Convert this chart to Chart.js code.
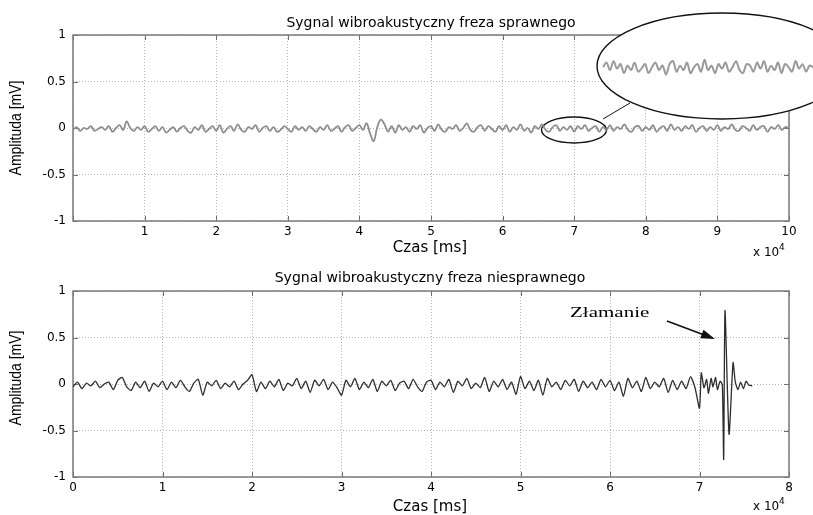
<!DOCTYPE html>
<html>
<head>
<meta charset="utf-8">
<script src="https://cdn.jsdelivr.net/npm/chart.js@4.4.0/dist/chart.umd.min.js"></script>
<style>
  html, body { margin: 0; padding: 0; background: #fff; }
  #wrap { position: relative; width: 813px; height: 515px; overflow: hidden; }
  canvas { position: absolute; left: 0; }
  #top { top: 0; }
  #bottom { top: 262px; }
</style>
</head>
<body>
<div id="wrap">
  <canvas id="top" width="813" height="262"></canvas>
  <canvas id="bottom" width="813" height="253"></canvas>
</div>
<script>
// tick labels
const yTicks = [-1, -0.5, 0, 0.5, 1];
const topXMax = 10;
const bottomXMax = 8;

// sampling step of the read-off signals (x 10^4 ms)
const dt = 0.05;

// good cutter signal, t = 0 .. 10
const topValues = [
  -0.02, 0.01, -0.03, 0.00, -0.01, 0.02, -0.03, -0.01, 0.01, -0.02, 0.02, -0.04, 0.00, 0.03, -0.02, 0.07, 0.00, -0.03, 0.01, -0.02,
  0.02, -0.04, -0.01, 0.02, -0.03, 0.01, -0.05, -0.02, 0.01, -0.04, 0.00, 0.02, -0.03, -0.05, 0.01, -0.02, 0.03, -0.04, -0.01, 0.02,
  -0.03, 0.03, -0.05, -0.01, 0.02, -0.03, 0.04, -0.02, -0.04, 0.01, -0.01, 0.03, -0.04, 0.00, 0.02, -0.03, 0.01, -0.04, -0.02, 0.02,
  -0.01, -0.04, 0.02, -0.02, 0.01, -0.03, 0.02, -0.01, -0.04, 0.01, -0.02, 0.03, -0.03, -0.01, 0.02, -0.04, 0.01, 0.03, -0.03, 0.00,
  0.03, -0.02, 0.05, -0.06, -0.14, 0.01, 0.09, 0.04, -0.04, 0.02, -0.05, 0.03, -0.02, 0.01, -0.04, 0.02, -0.01, 0.03, -0.05, 0.00,
  0.02, -0.03, 0.04, -0.02, -0.04, 0.01, -0.01, 0.03, -0.03, 0.00, 0.05, -0.02, -0.04, 0.01, 0.03, -0.03, 0.02, -0.01, -0.04, 0.02,
  -0.02, 0.03, -0.04, 0.01, -0.02, 0.04, -0.03, 0.00, -0.05, 0.02, -0.01, 0.04, -0.02, -0.04, 0.01, 0.03, -0.03, 0.01, -0.02, 0.02,
  -0.04, 0.02, -0.01, 0.03, -0.03, 0.00, 0.02, -0.04, 0.01, -0.02, 0.03, -0.03, 0.01, -0.01, 0.04, -0.02, -0.04, 0.01, 0.02, -0.03,
  0.01, -0.02, 0.03, -0.04, 0.00, 0.02, -0.03, 0.04, -0.02, 0.01, -0.03, 0.02, -0.01, 0.03, -0.04, 0.00, 0.02, -0.03, 0.01, -0.02,
  0.03, -0.03, 0.01, -0.01, 0.04, -0.02, -0.03, 0.02, 0.00, -0.03, 0.03, -0.02, 0.01, 0.02, -0.04, 0.01, -0.01, 0.03, -0.02, 0.01, 0.00
];

// magnified piece of the good signal (inside the big ellipse), t = 6.6 .. 7.5
const insetStart = 6.6;
const insetStep = 0.015;
const insetValues = [
  0.00, 0.03, -0.02, 0.04, -0.01, 0.02, -0.04, 0.01, -0.02, 0.03,
  -0.03, -0.01, 0.02, -0.04, 0.00, 0.03, -0.02, 0.01, -0.05, 0.02,
  0.04, -0.03, 0.01, -0.02, 0.03, -0.04, 0.00, 0.02, -0.03, 0.05,
  -0.02, 0.01, -0.04, 0.02, -0.01, 0.03, -0.03, 0.00, 0.04, -0.02,
  -0.04, 0.02, 0.01, -0.03, 0.03, -0.01, 0.04, -0.03, 0.01, -0.02,
  0.03, -0.04, 0.02, 0.00, -0.03, 0.04, -0.01, 0.02, -0.03, 0.01, 0.00
];

// broken cutter signal, t = 0 .. 6.95
const bottomValues = [
  -0.03, 0.02, -0.05, 0.01, -0.02, 0.03, -0.04, 0.00, 0.02, -0.06, 0.04, 0.07, -0.03, -0.07, 0.02, -0.04, 0.03, -0.08, 0.01, -0.03,
  0.03, -0.06, 0.02, -0.04, 0.04, -0.03, -0.08, 0.01, 0.05, -0.12, 0.02, -0.02, 0.04, -0.05, 0.01, -0.03, 0.03, -0.06, 0.00, 0.04,
  0.10, -0.08, 0.02, -0.05, 0.03, -0.03, 0.05, -0.07, 0.01, -0.02, 0.06, -0.05, 0.03, -0.09, 0.04, -0.02, 0.05, -0.06, 0.02, -0.04,
  -0.12, 0.04, -0.03, 0.06, -0.06, 0.02, -0.04, 0.05, -0.08, 0.03, -0.02, 0.04, -0.07, 0.01, 0.03, -0.05, 0.05, -0.03, -0.08, 0.02,
  0.04, -0.06, 0.02, -0.03, 0.05, -0.09, 0.03, -0.02, 0.06, -0.05, 0.01, -0.04, 0.07, -0.08, 0.03, -0.03, 0.05, -0.06, 0.02, -0.11,
  0.08, -0.05, 0.03, -0.07, 0.04, -0.12, 0.06, -0.03, 0.02, -0.06, 0.04, -0.02, 0.05, -0.08, 0.03, -0.04, 0.02, -0.06, 0.05, -0.03,
  0.04, -0.07, 0.02, -0.13, 0.06, -0.04, 0.03, -0.08, 0.07, -0.05, 0.02, -0.03, 0.06, -0.09, 0.04, -0.06, 0.03, -0.05, 0.08, -0.04
];

// the break itself, read with its own time stamps
const breakTimes = [7.00, 7.02, 7.05, 7.08, 7.10, 7.13, 7.15, 7.18, 7.20, 7.23, 7.255, 7.27, 7.285, 7.33, 7.375, 7.40, 7.43, 7.46, 7.49, 7.52, 7.55, 7.59];
const breakValues = [-0.26, 0.12, -0.04, 0.05, -0.10, 0.06, -0.03, 0.07, -0.06, 0.03, -0.01, -0.81, 0.79, -0.54, 0.23, 0.02, -0.06, 0.02, -0.05, 0.03, -0.01, -0.02];

const topPoints = topValues.map((v, i) => ({ x: i * dt, y: v }));
const insetPoints = insetValues.map((v, i) => ({ x: insetStart + i * insetStep, y: v }));
const bottomPoints = bottomValues.map((v, i) => ({ x: i * dt, y: v }))
  .concat(breakTimes.map((t, i) => ({ x: t, y: breakValues[i] })));

const tickFont = { family: 'DejaVu Sans', size: 12 };

function drawText(ctx, str, x, y, font, align, sx) {
  ctx.save();
  ctx.font = font;
  ctx.fillStyle = '#000';
  ctx.textAlign = align || 'left';
  ctx.textBaseline = 'alphabetic';
  ctx.translate(x, y);
  ctx.scale(sx || 1, 1);
  ctx.fillText(str, 0, 0);
  ctx.restore();
}

function drawYLabel(ctx, y) {
  ctx.save();
  ctx.font = '14px "Liberation Sans"';
  ctx.fillStyle = '#000';
  ctx.textAlign = 'center';
  ctx.textBaseline = 'middle';
  ctx.translate(16, y);
  ctx.scale(1.2, 1);
  ctx.rotate(-Math.PI / 2);
  ctx.fillText('Amplituda [mV]', 0, 0);
  ctx.restore();
}

// box round the axes with inward ticks, matlab style
const framePlugin = {
  id: 'frame',
  beforeDatasetsDraw(chart) {
    const { ctx, chartArea: a } = chart;
    const xs = chart.scales.x, ys = chart.scales.y;
    ctx.save();
    ctx.strokeStyle = '#6e6e6e';
    ctx.lineWidth = 1;
    ctx.beginPath();
    xs.ticks.forEach(t => {
      const px = Math.round(xs.getPixelForValue(t.value)) + 0.5;
      ctx.moveTo(px, a.bottom); ctx.lineTo(px, a.bottom - 5);
      ctx.moveTo(px, a.top); ctx.lineTo(px, a.top + 5);
    });
    ys.ticks.forEach(t => {
      const py = Math.round(ys.getPixelForValue(t.value)) + 0.5;
      ctx.moveTo(a.left, py); ctx.lineTo(a.left + 5, py);
      ctx.moveTo(a.right, py); ctx.lineTo(a.right - 5, py);
    });
    ctx.stroke();
    ctx.strokeStyle = '#7a7a7a';
    ctx.lineWidth = 1.5;
    ctx.strokeRect(a.left, a.top, a.right - a.left, a.bottom - a.top);
    ctx.restore();
  }
};

function makeOptions(xMax, hideZero, axisHeight, padTop, extraScales) {
  const scales = {
    x: {
      type: 'linear', min: 0, max: xMax,
      grid: { color: '#b4b4b4', lineWidth: 1, drawTicks: false },
      border: { display: false, dash: [1, 2] },
      ticks: {
        stepSize: 1, autoSkip: false, maxRotation: 0, padding: 4,
        color: '#000', font: tickFont,
        callback: v => (hideZero && v === 0) ? '' : String(v)
      },
      afterFit: s => { s.height = axisHeight; }
    },
    y: {
      min: -1, max: 1,
      grid: { color: '#b4b4b4', lineWidth: 1, drawTicks: false },
      border: { display: false, dash: [1, 2] },
      ticks: { stepSize: 0.5, padding: 7, color: '#000', font: tickFont, callback: v => String(v) },
      afterBuildTicks: s => { s.ticks = yTicks.map(v => ({ value: v })); },
      afterFit: s => { s.width = 73; }
    }
  };
  Object.assign(scales, extraScales || {});
  return {
    responsive: false,
    animation: false,
    devicePixelRatio: 1,
    layout: { padding: { left: 0, right: 24, top: padTop, bottom: 0 } },
    plugins: { legend: { display: false }, tooltip: { enabled: false }, title: { display: false } },
    elements: { point: { radius: 0 } },
    scales
  };
}

// top chart: ellipses, texts
const topAnnot = {
  id: 'topAnnot',
  beforeDatasetsDraw(chart) {
    const ctx = chart.ctx;
    ctx.save();
    ctx.strokeStyle = '#111';
    ctx.lineWidth = 1.4;
    // big ellipse, white inside
    ctx.beginPath();
    ctx.ellipse(722, 66, 125, 53, 0, 0, Math.PI * 2);
    ctx.fillStyle = '#fff';
    ctx.fill();
    ctx.stroke();
    // small ellipse on the signal
    ctx.beginPath();
    ctx.ellipse(574, 130, 32.5, 13, 0, 0, Math.PI * 2);
    ctx.stroke();
    // connector
    ctx.lineWidth = 1;
    ctx.beginPath();
    ctx.moveTo(603, 119);
    ctx.lineTo(630, 103);
    ctx.stroke();
    ctx.restore();
  },
  afterDraw(chart) {
    const ctx = chart.ctx;
    drawText(ctx, 'Sygnal wibroakustyczny freza sprawnego', 431, 27, '14px "DejaVu Sans"', 'center');
    drawText(ctx, 'Czas [ms]', 430, 252, '15px "DejaVu Sans"', 'center');
    drawText(ctx, 'x 10', 753, 256, '12px "DejaVu Sans"', 'left');
    drawText(ctx, '4', 779, 250, '9px "DejaVu Sans"', 'left');
    drawYLabel(ctx, 128);
  }
};

const bottomAnnot = {
  id: 'bottomAnnot',
  afterDraw(chart) {
    const ctx = chart.ctx;
    drawText(ctx, 'Sygnal wibroakustyczny freza niesprawnego', 430, 20, '14px "DejaVu Sans"', 'center');
    drawText(ctx, 'Czas [ms]', 430, 249, '15px "DejaVu Sans"', 'center');
    drawText(ctx, 'x 10', 753, 248, '12px "DejaVu Sans"', 'left');
    drawText(ctx, '4', 779, 242, '9px "DejaVu Sans"', 'left');
    drawYLabel(ctx, 116);
    drawText(ctx, 'Złamanie', 570, 55, '15px "Liberation Serif"', 'left', 1.4);
    // arrow
    const x1 = 667, y1 = 59, x2 = 715, y2 = 77;
    const ang = Math.atan2(y2 - y1, x2 - x1);
    ctx.save();
    ctx.strokeStyle = '#111';
    ctx.fillStyle = '#111';
    ctx.lineWidth = 1.6;
    ctx.beginPath();
    ctx.moveTo(x1, y1);
    ctx.lineTo(x2 - 10 * Math.cos(ang), y2 - 10 * Math.sin(ang));
    ctx.stroke();
    ctx.beginPath();
    ctx.moveTo(x2, y2);
    ctx.lineTo(x2 - 14 * Math.cos(ang) + 4.5 * Math.sin(ang), y2 - 14 * Math.sin(ang) - 4.5 * Math.cos(ang));
    ctx.lineTo(x2 - 14 * Math.cos(ang) - 4.5 * Math.sin(ang), y2 - 14 * Math.sin(ang) + 4.5 * Math.cos(ang));
    ctx.closePath();
    ctx.fill();
    ctx.restore();
  }
};

// hidden scales that place the magnified piece inside the big ellipse
const insetScales = {
  xz: {
    type: 'linear', display: false,
    afterBuildTicks: s => { s.min = 4.3286; s.max = 7.397; }
  },
  yz: {
    type: 'linear', display: false,
    afterBuildTicks: s => { s.min = -1.03; s.max = 0.215; }
  }
};

new Chart(document.getElementById('top'), {
  type: 'line',
  data: {
    datasets: [
      { data: topPoints, borderColor: '#8e8e8e', borderWidth: 1.8, tension: 0.4, xAxisID: 'x', yAxisID: 'y' },
      { data: insetPoints, borderColor: '#9a9a9a', borderWidth: 2, tension: 0.35, xAxisID: 'xz', yAxisID: 'yz', clip: false }
    ]
  },
  options: makeOptions(topXMax, true, 41, 35, insetScales),
  plugins: [framePlugin, topAnnot]
});

new Chart(document.getElementById('bottom'), {
  type: 'line',
  data: {
    datasets: [
      { data: bottomPoints, borderColor: '#2e2e2e', borderWidth: 1.3, tension: 0.2 }
    ]
  },
  options: makeOptions(bottomXMax, false, 38, 29),
  plugins: [framePlugin, bottomAnnot]
});
</script>
</body>
</html>
